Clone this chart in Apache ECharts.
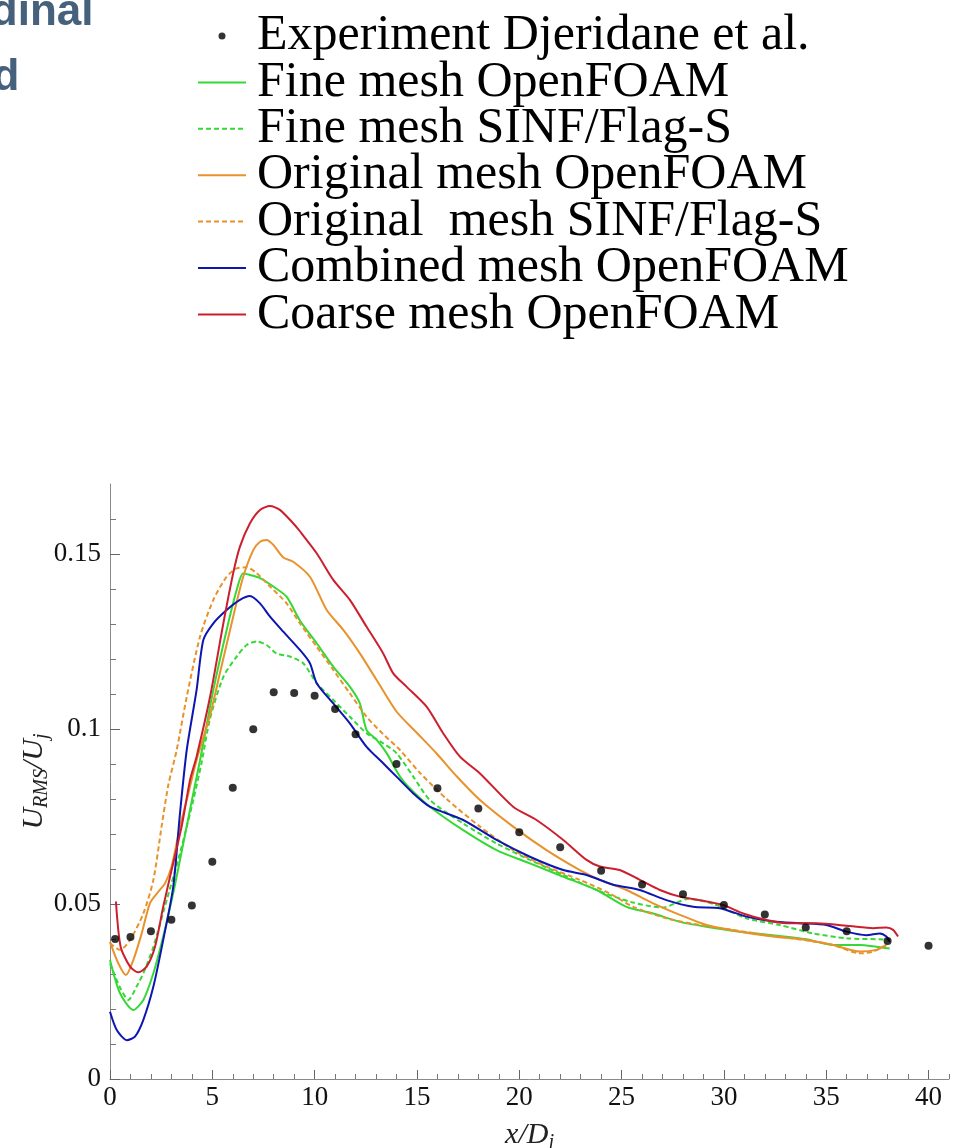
<!DOCTYPE html>
<html><head><meta charset="utf-8">
<script src="https://cdn.jsdelivr.net/npm/echarts@6/dist/echarts.min.js"></script>
<style>html,body{margin:0;padding:0;background:#fff}#c{width:957px;height:1148px}</style>
</head><body><div id="c"></div><script>
// ---- data ----
const expX = [0.25,1,2,3,4,5,6,7,8,9,10,11,12,14,16,18,20,22,24,26,28,30,32,34,36,38,40];
const expY = [0.0400,0.0406,0.0422,0.0455,0.0496,0.0621,0.0832,0.0999,0.1105,0.1103,0.1095,0.1057,0.0985,0.0900,0.0831,0.0773,0.0705,0.0662,0.0595,0.0556,0.0528,0.0497,0.0470,0.0433,0.0422,0.0394,0.0381];

const fineOF = [[0,0.034],[0.49,0.0245],[1.14,0.0197],[1.63,0.0226],[2.12,0.0302],[2.6,0.0407],[3.09,0.0531],[3.58,0.0673],[4.07,0.0816],[4.4,0.0911],[5.05,0.1111],[5.7,0.1283],[6.19,0.1397],[6.51,0.1445],[6.84,0.144],[7.33,0.1431],[7.98,0.1407],[8.63,0.1378],[9.28,0.1310],[10.1,0.1245],[10.91,0.1178],[11.72,0.1121],[12.21,0.1073],[12.54,0.0997],[13.03,0.0969],[13.52,0.0931],[14.17,0.0864],[14.66,0.0830],[15.63,0.0778],[17.26,0.0711],[18.89,0.0654],[20.52,0.0616],[22.15,0.0578],[23.78,0.054],[25.24,0.0492],[26.54,0.0473],[27.85,0.0449],[29.15,0.0435],[30.78,0.0421],[32.4,0.0411],[34.03,0.0399],[35.33,0.0383],[36.64,0.0383],[37.45,0.0378],[38.1,0.0373]];

const fineSINF = [[0,0.033],[0.5,0.026],[0.9,0.0226],[1.3,0.0264],[1.63,0.0302],[2.12,0.0378],[2.77,0.0511],[3.42,0.0645],[4.07,0.0797],[4.48,0.0905],[4.89,0.1030],[5.54,0.1149],[6.19,0.1207],[6.68,0.124],[7.17,0.125],[7.65,0.124],[8.14,0.1216],[8.79,0.1207],[9.44,0.1188],[10.1,0.1131],[10.91,0.1083],[11.72,0.1035],[12.54,0.0988],[13.35,0.0959],[14.0,0.0931],[14.82,0.0864],[15.63,0.0797],[17.26,0.073],[18.89,0.0673],[20.52,0.0626],[22.15,0.0583],[23.78,0.054],[25.5,0.0505],[27,0.049],[28.3,0.0515],[29.5,0.050],[31.1,0.0459],[32.73,0.044],[34.36,0.0416],[35.99,0.0402],[37.62,0.0399],[38.1,0.0397]];

const origOF = [[0,0.0392],[0.41,0.033],[0.78,0.0297],[1.14,0.034],[1.55,0.0416],[1.95,0.0502],[2.36,0.0535],[2.69,0.0559],[3.01,0.0607],[3.42,0.0721],[3.83,0.0816],[4.23,0.0911],[4.89,0.1040],[5.37,0.1159],[6.02,0.1321],[6.51,0.1435],[7.0,0.1511],[7.33,0.1535],[7.65,0.154],[7.98,0.1526],[8.47,0.1490],[8.95,0.1478],[9.77,0.1435],[10.59,0.134],[11.4,0.1283],[12.21,0.1216],[13.03,0.1140],[14.0,0.1050],[14.98,0.0990],[15.96,0.0930],[16.94,0.0865],[18.08,0.0797],[19.7,0.0721],[21.33,0.0654],[22.96,0.0597],[23.94,0.0569],[25.24,0.054],[26.54,0.0502],[27.85,0.0469],[29.15,0.044],[30.78,0.0421],[32.4,0.0407],[34.03,0.0397],[35.33,0.0383],[36.64,0.0364],[37.45,0.0369],[37.94,0.0383]];

const origSINF = [[0,0.0388],[0.49,0.0369],[0.98,0.0397],[1.63,0.0473],[2.12,0.0569],[2.52,0.0721],[2.85,0.0840],[3.26,0.094],[3.75,0.1092],[4.4,0.1264],[5.05,0.1369],[5.7,0.1435],[6.19,0.1459],[6.68,0.1462],[7.17,0.1445],[7.82,0.1407],[8.63,0.1359],[9.28,0.1302],[10.1,0.1235],[10.91,0.1169],[11.72,0.1102],[12.54,0.1035],[13.35,0.0985],[14.17,0.094],[15.14,0.0875],[16.45,0.0800],[18.08,0.0721],[19.7,0.0654],[21.33,0.0607],[22.96,0.0569],[24.43,0.0530],[25.57,0.0492],[27.19,0.0459],[28.82,0.044],[30.45,0.0426],[32.08,0.0411],[33.71,0.0399],[35.33,0.0383],[36.64,0.0359],[37.29,0.0364],[37.94,0.0383]];

const combOF = [[0,0.0192],[0.33,0.014],[0.82,0.0111],[1.22,0.0121],[1.63,0.0169],[2.12,0.0264],[2.6,0.0397],[3.09,0.0549],[3.42,0.0759],[3.75,0.094],[4.23,0.1111],[4.56,0.1254],[5.05,0.1302],[5.7,0.134],[6.35,0.1369],[6.84,0.138],[7.33,0.1359],[7.82,0.1321],[8.47,0.1278],[9.28,0.1226],[9.77,0.1188],[10.1,0.1131],[10.91,0.1073],[11.72,0.1016],[12.54,0.0949],[13.35,0.0902],[14.0,0.0864],[14.82,0.0816],[15.63,0.0778],[17.26,0.074],[18.89,0.0683],[20.52,0.0635],[22.15,0.0597],[23.29,0.0583],[24.59,0.0555],[25.89,0.054],[27.19,0.0511],[28.5,0.0492],[29.8,0.0488],[31.1,0.0464],[32.4,0.045],[33.71,0.0445],[35.01,0.044],[35.99,0.0421],[36.96,0.0411],[37.62,0.0416],[37.94,0.0407],[38.1,0.0392]];

const coarseOF = [[0.29,0.0507],[0.52,0.0378],[0.98,0.0321],[1.38,0.0305],[1.79,0.0321],[2.2,0.0378],[2.6,0.0492],[3.01,0.0597],[3.5,0.0721],[3.91,0.0854],[4.23,0.0921],[4.89,0.1092],[5.54,0.1302],[6.02,0.1445],[6.35,0.1521],[6.84,0.1588],[7.33,0.1626],[7.82,0.1637],[8.3,0.1626],[8.95,0.1588],[9.28,0.1565],[10.1,0.1502],[10.91,0.1426],[11.72,0.1369],[12.54,0.1292],[13.35,0.1216],[13.84,0.1159],[14.49,0.1121],[15.47,0.1064],[16.28,0.0988],[17.1,0.0921],[18.08,0.0873],[19.7,0.0778],[20.84,0.074],[22.15,0.0683],[23.29,0.0626],[23.94,0.0607],[24.91,0.0597],[25.89,0.0569],[26.87,0.054],[27.85,0.0521],[28.82,0.0511],[29.96,0.0497],[30.94,0.0473],[32.08,0.0454],[33.06,0.0445],[34.52,0.0445],[36.15,0.0437],[37.29,0.0431],[37.94,0.0433],[38.27,0.0426],[38.51,0.0407]];

const names = ['Experiment Djeridane et al.','Fine mesh OpenFOAM','Fine mesh SINF/Flag-S','Original mesh OpenFOAM','Original  mesh SINF/Flag-S','Combined mesh OpenFOAM','Coarse mesh OpenFOAM'];
const xMajor = [0,5,10,15,20,25,30,35,40];
const yMajor = [0,0.05,0.1,0.15];
const yMinor = [0,0.01,0.02,0.03,0.04,0.05,0.06,0.07,0.08,0.09,0.1,0.11,0.12,0.13,0.14,0.15,0.16];
const cornerText = ['dinal','d'];

// ---- chart ----
const GREEN='#36d836', ORANGE='#e8922c', BLUE='#0d16b0', RED='#cc1f2e';
const serif = 'Liberation Serif';
const chart = echarts.init(document.getElementById('c'), null, {renderer:'canvas'});
function lineS(name, data, color, dashed){
  return {name, type:'line', data, xAxisIndex:0, yAxisIndex:0, showSymbol:false, symbol:'none', smooth:0.25,
    lineStyle:{color, width:2, type: dashed ? [5,3] : 'solid'}, itemStyle:{color}, z: 3};
}
const hideSym = {color:'rgba(0,0,0,0)', borderWidth:0, opacity:0};
const titleRich = {a:{fontFamily:serif, fontStyle:'italic', fontSize:30, lineHeight:36, color:'#222'},
                   b:{fontFamily:serif, fontStyle:'italic', fontSize:20, lineHeight:21, verticalAlign:'bottom', color:'#222'}};
chart.setOption({
  animation:false,
  backgroundColor:'#fff',
  grid:{left:110, right:8, top:484, bottom:69, containLabel:false, outerBoundsMode:'none'},
  graphic:[
    {type:'text', style:{x:93.5, y:13, text:cornerText[0], textAlign:'right', textVerticalAlign:'middle', font:'bold 44px "Liberation Sans"', fill:'#46617b'}},
    {type:'text', style:{x:19.5, y:78, text:cornerText[1], textAlign:'right', textVerticalAlign:'middle', font:'bold 44px "Liberation Sans"', fill:'#46617b'}}
  ],
  legend:{
    orient:'vertical', left:197, top:11, padding:0, itemWidth:48, itemHeight:7, itemGap:-3.6,
    textStyle:{fontFamily:serif, fontSize:50, color:'#000', padding:[0,0,0,6]},
    data:[{name:names[0], icon:'circle'},
          {name:names[1], itemStyle:hideSym}, {name:names[2], itemStyle:hideSym},
          {name:names[3], itemStyle:hideSym}, {name:names[4], itemStyle:hideSym},
          {name:names[5], itemStyle:hideSym}, {name:names[6], itemStyle:hideSym}]
  },
  xAxis:[
    {type:'value', position:'bottom', min:0, max:41, interval:1,
     axisLine:{show:true, lineStyle:{color:'#8a8a8a', width:1}},
     axisTick:{show:true, inside:true, length:5, lineStyle:{color:'#777', width:1}},
     axisLabel:{show:false}, splitLine:{show:false},
     name:'{a|x/D}{b|j}', nameLocation:'middle', nameGap:38,
     nameTextStyle:{rich:titleRich}},
    {type:'value', position:'bottom', min:0, max:41, interval:5,
     axisLine:{show:false},
     axisTick:{show:true, inside:true, length:9, customValues:xMajor, lineStyle:{color:'#666', width:1}},
     axisLabel:{show:true, customValues:xMajor, margin:5, fontFamily:serif, fontSize:27, color:'#111'},
     splitLine:{show:false}}
  ],
  yAxis:[
    {type:'value', position:'left', min:0, max:0.17, interval:0.01,
     axisLine:{show:true, lineStyle:{color:'#8a8a8a', width:1}},
     axisTick:{show:true, inside:true, length:6, customValues:yMinor, lineStyle:{color:'#777', width:1}},
     axisLabel:{show:false}, splitLine:{show:false},
     name:'{a|U}{b|RMS}{a|/U}{b|j}', nameLocation:'middle', nameGap:58,
     nameTextStyle:{rich:titleRich}},
    {type:'value', position:'left', min:0, max:0.17, interval:0.05,
     axisLine:{show:false},
     axisTick:{show:true, inside:true, length:10, customValues:yMajor, lineStyle:{color:'#666', width:1}},
     axisLabel:{show:true, customValues:yMajor, margin:9, fontFamily:serif, fontSize:27, color:'#111'},
     splitLine:{show:false}}
  ],
  series:[
    {name:names[0], type:'scatter', xAxisIndex:0, yAxisIndex:0, symbol:'circle', symbolSize:8,
     itemStyle:{color:'#000'}, data: expX.map((x,i)=>[x, expY[i]]), z:5},
    lineS(names[1], fineOF, GREEN, false),
    lineS(names[2], fineSINF, GREEN, true),
    lineS(names[3], origOF, ORANGE, false),
    lineS(names[4], origSINF, ORANGE, true),
    lineS(names[5], combOF, BLUE, false),
    lineS(names[6], coarseOF, RED, false)
  ]
});
</script></body></html>
